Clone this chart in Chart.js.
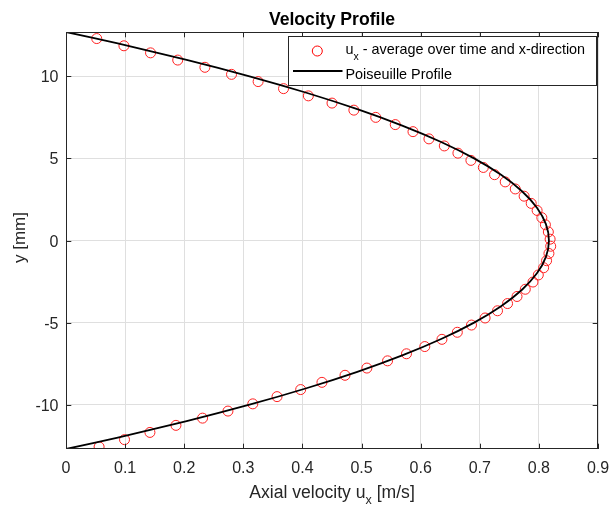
<!DOCTYPE html>
<html>
<head>
<meta charset="utf-8">
<title>Velocity Profile</title>
<script src="https://cdn.jsdelivr.net/npm/chart.js@4.4.0/dist/chart.umd.min.js"></script>
<style>
  html, body { margin: 0; padding: 0; background: #fff; }
</style>
</head>
<body>
<canvas id="chartVelocity" width="614" height="511"></canvas>
<script>
// ====== Data ======
const markerY = [12.30, 11.86, 11.43, 10.99, 10.55, 10.12, 9.68, 9.25, 8.81, 8.37,
    7.94, 7.50, 7.06, 6.63, 6.19, 5.76, 5.32, 4.88, 4.45, 4.01,
    3.57, 3.14, 2.70, 2.26, 1.83, 1.39, 0.96, 0.52, 0.08, -0.35,
    -0.79, -1.23, -1.66, -2.10, -2.53, -2.97, -3.41, -3.84, -4.28, -4.72,
    -5.15, -5.59, -6.02, -6.46, -6.90, -7.33, -7.77, -8.21, -8.64, -9.08,
    -9.51, -9.95, -10.39, -10.82, -11.26, -11.69, -12.13, -12.57];
const markerU = [0.052, 0.098, 0.143, 0.189, 0.235, 0.280, 0.325, 0.368, 0.410, 0.450,
    0.487, 0.524, 0.557, 0.587, 0.614, 0.640, 0.663, 0.685, 0.706, 0.725,
    0.743, 0.760, 0.775, 0.787, 0.797, 0.805, 0.811, 0.816, 0.819, 0.820,
    0.817, 0.813, 0.808, 0.799, 0.790, 0.777, 0.763, 0.747, 0.730, 0.709,
    0.686, 0.662, 0.636, 0.607, 0.576, 0.544, 0.509, 0.472, 0.433, 0.397,
    0.357, 0.316, 0.274, 0.231, 0.186, 0.142, 0.099, 0.056];

// Poiseuille profile samples
const curveY = [12.7, 12, 11, 10, 9, 8, 7, 6, 5, 4, 3, 2, 1, 0,
    -1, -2, -3, -4, -5, -6, -7, -8, -9, -10, -11, -12, -12.7];
const curveU = [0, 0.0876, 0.2041, 0.3105, 0.4067, 0.4928, 0.5688, 0.6346, 0.6904, 0.7360, 0.7714, 0.7967, 0.8119, 0.8170,
    0.8119, 0.7967, 0.7714, 0.7360, 0.6904, 0.6346, 0.5688, 0.4928, 0.4067, 0.3105, 0.2041, 0.0876, 0];

const xTickVals = [0, 0.1, 0.2, 0.3, 0.4, 0.5, 0.6, 0.7, 0.8, 0.9];
const xTickLabels = ["0", "0.1", "0.2", "0.3", "0.4", "0.5", "0.6", "0.7", "0.8", "0.9"];
const yTickVals = [-10, -5, 0, 5, 10];
const yTickLabels = ["-10", "-5", "0", "5", "10"];

const FONT = '"Liberation Sans", Arial, sans-serif';
const AXIS_COLOR = "#262626";

// ====== Text with a subscript ======
function drawSub(ctx, parts, x, y, size, subSize, subDrop, align) {
    // parts: [[text, isSub], ...]
    let total = 0;
    parts.forEach(p => {
        ctx.font = (p[1] ? subSize : size) + "px " + FONT;
        total += ctx.measureText(p[0]).width;
    });
    let cx = align === "center" ? x - total / 2 : x;
    ctx.textAlign = "left";
    ctx.textBaseline = "alphabetic";
    parts.forEach(p => {
        ctx.font = (p[1] ? subSize : size) + "px " + FONT;
        ctx.fillText(p[0], cx, p[1] ? y + subDrop : y);
        cx += ctx.measureText(p[0]).width;
    });
}

// ====== MATLAB-like axes decoration ======
const matlabLook = {
    id: "matlabLook",
    afterDatasetsDraw(chart) {
        const ctx = chart.ctx;
        const a = chart.chartArea;
        const xs = chart.scales.x;
        const ys = chart.scales.y;
        const tl = 5.3;
        ctx.save();

        // box
        ctx.strokeStyle = AXIS_COLOR;
        ctx.lineWidth = 1;
        ctx.strokeRect(a.left + 0.5, a.top + 0.5, a.right - a.left - 1, a.bottom - a.top - 1);

        // inward ticks
        ctx.beginPath();
        xTickVals.forEach(v => {
            const px = Math.round(xs.getPixelForValue(v)) + 0.5;
            ctx.moveTo(px, a.bottom); ctx.lineTo(px, a.bottom - tl);
            ctx.moveTo(px, a.top); ctx.lineTo(px, a.top + tl);
        });
        yTickVals.forEach(v => {
            const py = Math.round(ys.getPixelForValue(v)) + 0.5;
            ctx.moveTo(a.left, py); ctx.lineTo(a.left + tl, py);
            ctx.moveTo(a.right, py); ctx.lineTo(a.right - tl, py);
        });
        ctx.stroke();

        // tick labels
        ctx.fillStyle = AXIS_COLOR;
        ctx.font = "16px " + FONT;
        ctx.textBaseline = "alphabetic";
        ctx.textAlign = "center";
        xTickVals.forEach((v, i) => {
            ctx.fillText(xTickLabels[i], xs.getPixelForValue(v), 473);
        });
        ctx.textAlign = "right";
        yTickVals.forEach((v, i) => {
            ctx.fillText(yTickLabels[i], 58.5, ys.getPixelForValue(v) + 6);
        });

        // axis labels
        drawSub(ctx, [["Axial velocity u", false], ["x", true], [" [m/s]", false]],
            (a.left + a.right) / 2, 498, 17.6, 12.5, 6, "center");
        ctx.save();
        ctx.translate(25, (a.top + a.bottom) / 2 - 3);
        ctx.rotate(-Math.PI / 2);
        ctx.font = "17px " + FONT;
        ctx.textAlign = "center";
        ctx.fillText("y [mm]", 0, 0);
        ctx.restore();

        // title
        ctx.fillStyle = "#000";
        ctx.font = "bold 17.6px " + FONT;
        ctx.textAlign = "center";
        ctx.fillText("Velocity Profile", (a.left + a.right) / 2, 25);

        // legend
        ctx.fillStyle = "#fff";
        ctx.fillRect(288.5, 36.5, 308, 49);
        ctx.strokeStyle = AXIS_COLOR;
        ctx.strokeRect(288.5, 36.5, 308, 49);
        ctx.beginPath();
        ctx.arc(317.3, 51, 5, 0, Math.PI * 2);
        ctx.strokeStyle = "#ff0000";
        ctx.stroke();
        ctx.beginPath();
        ctx.moveTo(293, 71); ctx.lineTo(342.5, 71);
        ctx.strokeStyle = "#000";
        ctx.lineWidth = 1.8;
        ctx.stroke();
        ctx.fillStyle = "#000";
        drawSub(ctx, [["u", false], ["x", true], [" - average over time and x-direction", false]],
            345.5, 53.5, 14.4, 10.5, 6, "left");
        drawSub(ctx, [["Poiseuille Profile", false]], 345.5, 79.3, 14.4, 10.5, 0, "left");

        ctx.restore();
    }
};

// ====== Chart ======
new Chart(document.getElementById("chartVelocity"), {
    type: "scatter",
    data: {
        datasets: [{
            label: "Poiseuille Profile",
            data: curveY.map((y, i) => ({ x: curveU[i], y: y })),
            showLine: true,
            borderColor: "#000",
            borderWidth: 1.8,
            pointRadius: 0,
            tension: 0.3,
            fill: false,
            order: 0
        }, {
            label: "ux - average over time and x-direction",
            data: markerY.map((y, i) => ({ x: markerU[i], y: y })),
            pointStyle: "circle",
            pointRadius: 5,
            borderColor: "#ff2020",
            backgroundColor: "rgba(0,0,0,0)",
            borderWidth: 1,
            order: 1
        }]
    },
    options: {
        responsive: false,
        animation: false,
        devicePixelRatio: 1,
        layout: { padding: { left: 0, right: 16, top: 32, bottom: 0 } },
        plugins: { legend: { display: false }, tooltip: { enabled: false }, title: { display: false } },
        scales: {
            x: {
                type: "linear", min: 0, max: 0.9,
                afterFit: s => { s.height = 62; },
                afterBuildTicks: s => { s.ticks = xTickVals.map(v => ({ value: v })); },
                ticks: { display: false },
                grid: { color: "#dfdfdf", drawTicks: false },
                border: { display: false }
            },
            y: {
                type: "linear", min: -12.7, max: 12.7,
                afterFit: s => { s.width = 66; },
                afterBuildTicks: s => { s.ticks = yTickVals.map(v => ({ value: v })); },
                ticks: { display: false },
                grid: { color: "#dfdfdf", drawTicks: false },
                border: { display: false }
            }
        }
    },
    plugins: [matlabLook]
});
</script>
</body>
</html>
